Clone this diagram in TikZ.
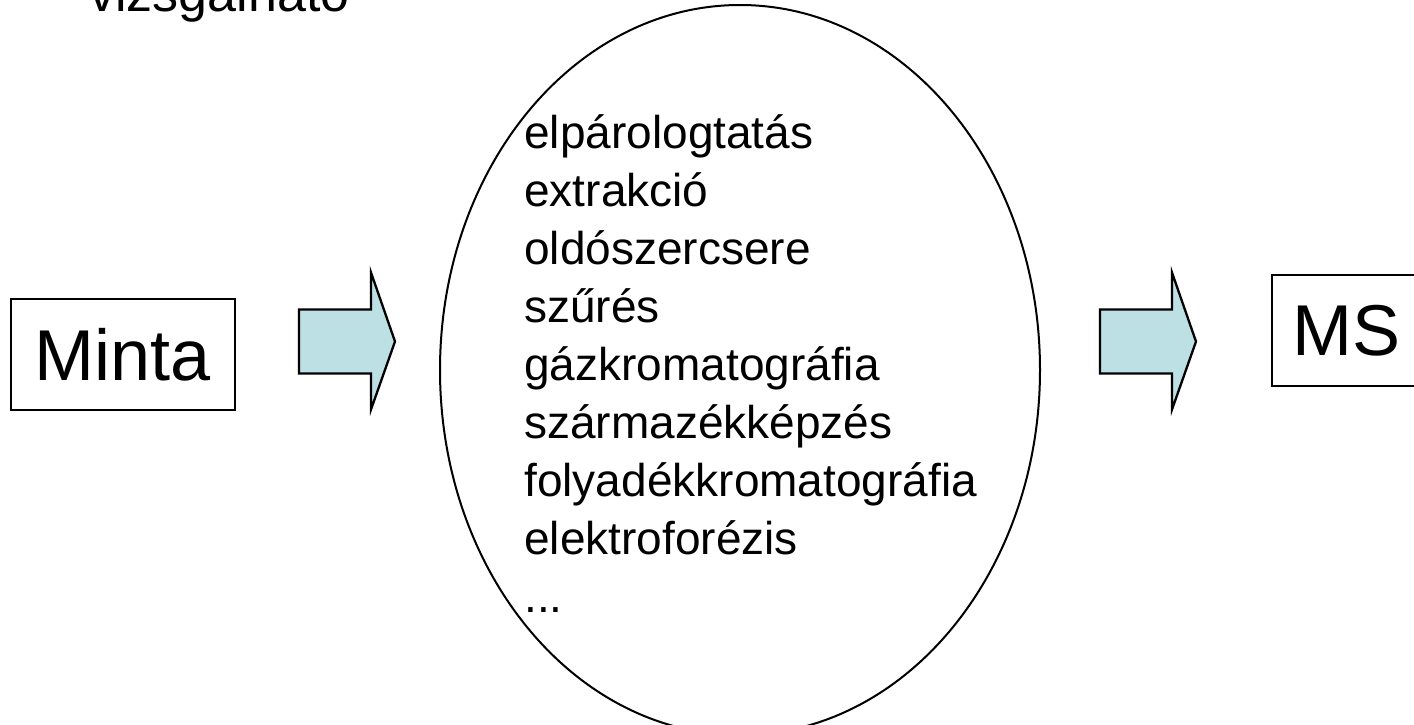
\documentclass[tikz,border=0pt]{standalone}
\usepackage{fontspec}
\setmainfont{Liberation Sans}
\usetikzlibrary{shapes.geometric}
\definecolor{arrowblue}{RGB}{188,224,228}
\tikzset{
  box/.style={draw=black, line width=0.8pt, inner sep=0pt,
    font=\fontsize{36}{43}\selectfont},
  arrowfill/.style={fill=arrowblue, draw=black, line width=1.15pt, line join=miter},
  stepitem/.style={anchor=base west, inner sep=0pt,
    font=\fontsize{23}{29}\selectfont},
  blockarrow/.pic={
    \draw[arrowfill] (0,-32) -- (72,-32) -- (72,-69) -- (96,0)
      -- (72,68) -- (72,32) -- (0,32) -- cycle;
  }
}
\begin{document}
\begin{tikzpicture}[x=0.5pt, y=-0.5pt]
  \clip (0,0) rectangle (1414,724);
  \useasboundingbox (0,0) rectangle (1414,724);

  % heading remainder at the top
  \node[anchor=base west, inner sep=0pt, font=\fontsize{26}{31}\selectfont]
    (head) at (89,11) {vizsgálható};

  % sample and detector
  \node[box, minimum width=112pt, minimum height=55.5pt] (minta) at (123,354.5) {Minta};
  \node[box, minimum width=74.5pt, minimum height=55.5pt] (ms) at (1346.5,330.5) {MS};

  % sample preparation / separation steps
  \node[draw=black, line width=1pt, ellipse, inner sep=0pt,
        minimum width=300pt, minimum height=365pt] (proc) at (740,370) {};
  \node[stepitem] (item1) at (524,148) {elpárologtatás};
  \node[stepitem] (item2) at (524,206) {extrakció};
  \node[stepitem] (item3) at (524,264) {oldószercsere};
  \node[stepitem] (item4) at (524,322) {szűrés};
  \node[stepitem] (item5) at (524,380) {gázkromatográfia};
  \node[stepitem] (item6) at (524,438) {származékképzés};
  \node[stepitem] (item7) at (524,496) {folyadékkromatográfia};
  \node[stepitem] (item8) at (524,554) {elektroforézis};
  \node[stepitem] (item9) at (524,612) {...};

  % block arrows
  \pic at (299,341.5) {blockarrow};
  \pic at (1100,341.5) {blockarrow};
\end{tikzpicture}
\end{document}
